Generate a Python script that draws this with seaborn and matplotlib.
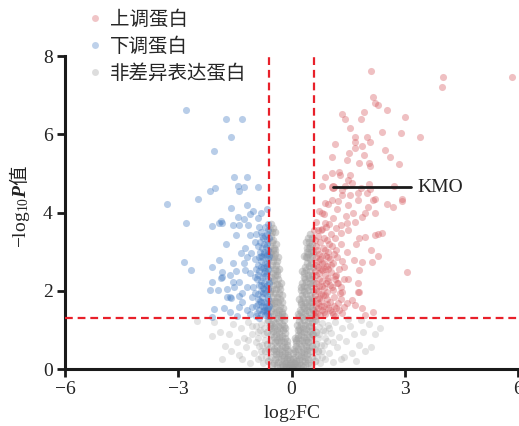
import matplotlib
matplotlib.use("Agg")
import matplotlib.pyplot as plt
from matplotlib.lines import Line2D
import seaborn as sns
import pandas as pd

# ---------------- data ----------------
groups = ["上调蛋白", "下调蛋白", "非差异表达蛋白"]
colors = ["#d65a60", "#467dc3", "#a0a0a0"]

fc_cut = 0.585   # log2(1.5)
p_cut = 1.301    # -log10(0.05)

kmo_point = (1.10, 4.65)
kmo_label = "KMO"

# non-significant proteins, dense V core (|log2FC| < 0.6)
ns_core = [
    (-0.55,3.70),(-0.50,3.60),(-0.45,3.50),(-0.54,3.40),(-0.48,3.30),(-0.40,3.20),(-0.56,3.15),(-0.50,3.05),
    (-0.43,2.95),(-0.36,2.85),(-0.55,2.85),(-0.48,2.75),(-0.41,2.65),(-0.33,2.55),(-0.56,2.55),(-0.50,2.45),
    (-0.43,2.40),(-0.36,2.30),(-0.29,2.20),(-0.55,2.25),(-0.48,2.15),(-0.41,2.05),(-0.33,1.95),(-0.26,1.88),
    (-0.56,1.95),(-0.50,1.85),(-0.44,1.75),(-0.37,1.70),(-0.30,1.60),(-0.22,1.55),(-0.55,1.65),(-0.48,1.55),
    (-0.42,1.45),(-0.35,1.40),(-0.28,1.32),(-0.20,1.25),(-0.56,1.35),(-0.50,1.25),(-0.44,1.18),(-0.37,1.10),
    (-0.30,1.05),(-0.23,1.00),(-0.16,0.92),(-0.55,1.05),(-0.48,0.98),(-0.41,0.90),(-0.34,0.82),(-0.27,0.75),
    (-0.20,0.70),(-0.13,0.62),(-0.52,0.75),(-0.45,0.68),(-0.38,0.60),(-0.31,0.52),(-0.24,0.45),(-0.17,0.40),
    (-0.10,0.35),(-0.50,0.45),(-0.42,0.38),(-0.35,0.30),(-0.28,0.25),(-0.21,0.20),(-0.14,0.15),(-0.07,0.10),
    (-0.46,0.15),(-0.38,0.10),(-0.30,0.05),(-0.22,0.08),(-0.15,0.05),(-0.08,0.30),(-0.05,0.15),(-0.03,0.05),
    (-0.12,0.50),(-0.19,1.10),(-0.26,1.45),(-0.31,2.05),(-0.39,2.50),(-0.46,3.10),(-0.52,3.50),(-0.58,3.00),
    (-0.58,2.00),(-0.58,1.10),
    (-0.57,3.55),(-0.52,3.25),(-0.44,3.05),(-0.53,2.95),(-0.46,2.85),(-0.39,2.75),(-0.52,2.65),(-0.45,2.55),
    (-0.38,2.40),(-0.53,2.35),(-0.46,2.28),(-0.39,2.18),(-0.32,2.12),(-0.52,2.05),(-0.45,1.95),(-0.38,1.85),
    (-0.31,1.78),(-0.24,1.70),(-0.53,1.75),(-0.46,1.68),(-0.40,1.58),(-0.33,1.50),(-0.26,1.40),(-0.19,1.35),
    (-0.53,1.48),(-0.46,1.40),(-0.39,1.30),(-0.32,1.22),(-0.25,1.15),(-0.18,1.05),(-0.53,1.15),(-0.46,1.08),
    (-0.39,1.00),(-0.32,0.92),(-0.25,0.85),(-0.18,0.80),(-0.11,0.72),(-0.53,0.90),(-0.46,0.82),(-0.39,0.75),
    (-0.32,0.68),(-0.25,0.60),(-0.18,0.55),(-0.10,0.45),(-0.53,0.60),(-0.46,0.52),(-0.40,0.45),(-0.33,0.40),
    (-0.26,0.35),(-0.19,0.30),(-0.12,0.25),(-0.05,0.25),(-0.53,0.30),(-0.44,0.25),(-0.36,0.18),(-0.26,0.12),
    (-0.18,0.12),(-0.10,0.05),(-0.52,0.10),
    (0.50,3.45),(0.45,3.35),(0.38,3.25),(0.54,3.20),(0.47,3.10),(0.40,3.00),(0.32,2.90),(0.55,2.90),
    (0.49,2.80),(0.42,2.70),(0.35,2.60),(0.28,2.50),(0.56,2.60),(0.50,2.50),(0.43,2.40),(0.36,2.30),
    (0.29,2.20),(0.24,2.10),(0.55,2.30),(0.48,2.20),(0.41,2.10),(0.34,2.00),(0.27,1.90),(0.21,1.80),
    (0.56,2.00),(0.50,1.90),(0.44,1.80),(0.37,1.70),(0.30,1.60),(0.23,1.50),(0.17,1.40),(0.55,1.70),
    (0.48,1.60),(0.42,1.50),(0.35,1.42),(0.28,1.32),(0.21,1.22),(0.15,1.12),(0.56,1.40),(0.50,1.30),
    (0.44,1.20),(0.37,1.12),(0.30,1.04),(0.23,0.96),(0.16,0.88),(0.10,0.80),(0.55,1.05),(0.48,0.98),
    (0.41,0.90),(0.34,0.82),(0.27,0.74),(0.20,0.66),(0.13,0.58),(0.07,0.50),(0.52,0.75),(0.45,0.68),
    (0.38,0.60),(0.31,0.52),(0.24,0.44),(0.17,0.36),(0.10,0.30),(0.04,0.25),(0.50,0.45),(0.42,0.38),
    (0.35,0.30),(0.28,0.22),(0.21,0.16),(0.14,0.10),(0.07,0.06),(0.00,0.03),(0.45,0.15),(0.37,0.10),
    (0.30,0.06),(0.02,0.18),(0.05,0.40),(0.12,0.75),(0.19,1.05),(0.26,1.65),(0.33,2.35),(0.40,2.85),
    (0.46,3.25),(0.58,3.00),(0.58,2.20),(0.58,1.50),(0.58,0.90),
    (0.53,3.35),(0.49,3.15),(0.42,3.10),(0.52,3.00),(0.45,2.95),(0.38,2.85),(0.52,2.70),(0.46,2.62),
    (0.39,2.52),(0.32,2.45),(0.53,2.40),(0.46,2.32),(0.39,2.22),(0.32,2.12),(0.26,2.02),(0.52,2.12),
    (0.45,2.02),(0.38,1.92),(0.31,1.82),(0.24,1.72),(0.53,1.82),(0.46,1.72),(0.40,1.62),(0.33,1.55),
    (0.26,1.45),(0.19,1.35),(0.53,1.55),(0.46,1.45),(0.39,1.35),(0.32,1.25),(0.25,1.15),(0.18,1.00),
    (0.53,1.20),(0.46,1.10),(0.39,1.02),(0.32,0.95),(0.25,0.88),(0.18,0.78),(0.12,0.68),(0.53,0.90),
    (0.46,0.82),(0.39,0.75),(0.32,0.68),(0.25,0.60),(0.18,0.52),(0.10,0.45),(0.53,0.60),(0.46,0.55),
    (0.40,0.48),(0.33,0.40),(0.26,0.32),(0.19,0.25),(0.12,0.20),(0.06,0.15),(0.53,0.30),(0.44,0.25),
    (0.36,0.20),(0.26,0.10),(0.18,0.05),(0.10,0.12),(0.52,0.10),(-0.02,0.10),(0.03,0.02),
    (-0.62,1.25),(-0.66,0.95),(-0.64,0.65),(-0.70,0.45),(-0.63,0.20),(0.62,1.25),(0.66,0.95),(0.64,0.65),
    (0.70,0.45),(0.63,0.20),
]

# non-significant proteins, sparse outer cloud
ns_outer = [
    (-0.65,1.20),(-0.72,1.05),(-0.80,1.15),(-0.88,0.95),(-0.95,1.10),(-1.05,0.90),(-1.15,1.20),(-1.25,0.80),
    (-1.35,1.05),(-1.45,0.70),(-1.55,1.15),(-1.65,0.90),(-1.75,0.60),(-1.90,0.95),(-2.05,1.20),(-2.10,0.85),
    (-1.60,0.45),(-1.40,0.35),(-1.20,0.55),(-1.00,0.40),(-0.85,0.60),(-0.70,0.75),(-0.62,0.50),(-0.68,0.30),
    (-0.75,0.15),(-0.90,0.25),(-1.10,0.15),(-0.80,0.45),(-0.95,0.70),(-1.30,0.25),(-2.50,1.22),(-1.85,0.25),
    (0.65,1.22),(0.72,1.08),(0.80,1.18),(0.88,0.98),(0.96,1.12),(1.05,0.92),(1.15,1.20),(1.25,0.82),
    (1.35,1.05),(1.45,0.72),(1.55,1.10),(1.65,0.90),(1.78,0.62),(1.90,0.95),(2.05,1.15),(2.20,0.90),
    (2.35,1.05),(1.95,0.45),(1.60,0.40),(1.40,0.30),(1.20,0.55),(1.00,0.40),(0.85,0.62),(0.70,0.78),
    (0.62,0.52),(0.68,0.30),(0.75,0.15),(0.90,0.25),(1.10,0.18),(0.80,0.45),(0.95,0.72),(1.30,0.25),
    (1.70,0.20),(2.10,0.55),(1.85,1.25),(1.50,1.28),
    (-0.74,0.90),(-0.78,0.62),(-0.82,0.30),(-0.84,1.00),(-0.90,0.80),(0.74,0.90),(0.78,0.62),(0.82,0.30),
    (0.84,1.00),(0.90,0.80),(1.00,1.05),(1.10,0.70),(-1.05,1.10),(-1.15,0.75),
]

down_pts = [
    (-2.79,6.63),(-1.73,6.40),(-1.30,6.40),(-1.59,5.92),(-2.04,5.56),(-1.51,4.90),(-1.19,4.90),(-1.41,4.69),
    (-1.25,4.64),(-1.38,4.54),(-0.90,4.64),(-2.02,4.62),(-2.17,4.54),(-2.47,4.34),(-3.29,4.21),(-1.59,4.11),
    (-1.19,4.18),(-1.01,4.03),(-1.09,3.96),(-0.66,4.08),(-1.43,3.88),(-1.25,3.83),(-1.86,3.78),(-2.79,3.72),
    (-2.10,3.65),(-1.91,3.72),(-1.83,3.72),(-1.73,3.19),(-1.56,3.67),(-1.38,3.67),(-1.14,3.67),(-0.85,3.62),
    (-1.11,3.42),(-1.46,3.42),(-1.33,2.96),(-1.54,2.70),(-1.83,2.47),(-1.64,2.40),(-1.83,2.35),(-1.56,2.22),
    (-1.38,2.22),(-1.72,2.04),(-1.64,1.84),(-1.61,1.81),(-1.38,1.86),(-1.17,2.09),(-1.30,1.94),(-1.38,1.58),
    (-1.62,1.45),(-1.19,1.50),(-2.86,2.73),(-2.65,2.53),(-2.15,2.02),(-1.94,2.02),(-2.04,1.53),(-2.10,1.32),
    (-1.91,2.78),(-2.10,2.60),(-2.10,2.22),(-1.86,2.32),(-1.72,1.83),(-1.27,2.70),(-1.19,2.86),(-1.06,2.96),
    (-1.22,2.53),(-1.09,2.45),(-0.98,2.35),(-1.01,2.09),(-1.04,1.83),(-1.04,1.58),(-1.11,1.40),(-0.93,1.35),
    (-1.22,3.10),(-0.98,3.25),(-1.46,2.50),(-1.51,2.10),(-1.30,1.70),(-1.80,1.55),(-1.45,1.35),(-0.88,3.85),
    (-0.80,4.00),(-0.95,3.45),
    (-0.62,1.35),(-0.66,1.42),(-0.70,1.38),(-0.75,1.48),(-0.80,1.40),(-0.86,1.52),(-0.63,1.55),(-0.68,1.62),
    (-0.73,1.70),(-0.78,1.60),(-0.84,1.75),(-0.90,1.66),(-0.61,1.80),(-0.65,1.88),(-0.71,1.95),(-0.77,1.85),
    (-0.82,2.00),(-0.88,1.92),(-0.62,2.05),(-0.67,2.12),(-0.72,2.20),(-0.76,2.08),(-0.81,2.25),(-0.87,2.15),
    (-0.92,2.30),(-0.63,2.30),(-0.69,2.38),(-0.74,2.45),(-0.79,2.35),(-0.85,2.50),(-0.61,2.55),(-0.66,2.62),
    (-0.71,2.70),(-0.76,2.58),(-0.82,2.75),(-0.89,2.65),(-0.63,2.80),(-0.68,2.88),(-0.73,2.95),(-0.78,2.85),
    (-0.84,3.00),(-0.62,3.05),(-0.67,3.12),(-0.72,3.20),(-0.77,3.08),(-0.83,3.25),(-0.90,3.15),(-0.64,3.30),
    (-0.69,3.40),(-0.75,3.35),(-0.81,3.50),(-0.63,3.55),(-0.70,3.62),(-0.66,1.70),(-0.74,1.52),(-0.70,2.50),
    (-0.65,2.95),(-0.80,2.60),(-0.75,1.95),(-0.92,1.42),(-0.95,1.62),(-0.96,1.95),(-0.94,2.55),(-0.97,2.80),
    (-0.61,3.70),(-0.68,1.48),(-0.88,2.40),(-0.86,1.30),
    (-0.64,1.50),(-0.72,1.58),(-0.80,1.70),(-0.88,1.80),(-0.64,2.15),(-0.72,2.05),(-0.80,2.15),(-0.64,2.45),
    (-0.72,2.60),(-0.80,2.90),(-0.64,2.70),(-0.72,3.00),(-0.86,2.85),(-0.65,3.20),(-0.78,3.40),(-0.66,3.45),
    (-0.60,2.20),(-0.60,1.60),(-0.60,2.90),(-0.60,3.35),
]

up_pts = [
    (2.10,7.61),(4.01,7.47),(3.98,7.22),(5.84,7.47),(2.15,6.96),(2.20,6.81),(2.28,6.76),(2.52,6.61),
    (1.91,6.56),(1.33,6.51),(1.43,6.40),(1.83,6.38),(3.00,6.45),(1.54,6.15),(2.41,6.07),(2.89,6.02),
    (3.40,5.94),(1.67,5.94),(1.99,5.92),(1.67,5.79),(2.07,5.79),(1.88,5.71),(1.14,5.74),(1.67,5.64),
    (2.49,5.61),(1.51,5.51),(1.91,5.46),(2.60,5.43),(1.06,5.41),(1.46,5.33),(1.80,5.26),(2.04,5.26),
    (2.07,5.20),(2.86,5.23),(1.25,5.03),(1.06,5.00),(1.56,4.95),(0.90,4.90),(1.28,4.95),(1.49,4.82),
    (0.82,4.69),(2.04,4.74),(2.71,4.67),(1.83,4.62),(2.07,4.60),(1.59,4.75),(1.43,4.69),(1.33,4.57),
    (1.99,4.51),(1.75,4.51),(1.33,4.44),(1.54,4.44),(2.94,4.34),(2.20,4.34),(2.94,4.29),(2.52,4.21),
    (2.68,4.13),(2.17,4.31),(1.75,4.31),(1.49,4.18),(1.06,4.31),(0.88,4.24),(0.80,3.98),(0.88,3.72),
    (0.80,3.57),(0.70,3.40),
    (3.05,2.47),(2.41,3.47),(2.28,3.44),(2.20,3.42),(1.96,3.37),(1.80,3.34),(1.72,3.19),(2.10,3.04),
    (2.28,2.88),(2.12,2.73),(1.88,2.73),(1.65,2.78),(1.46,2.99),(1.80,2.53),(1.49,2.30),(1.75,2.19),
    (1.75,1.96),(1.80,1.96),(1.59,1.76),(1.67,1.63),(1.88,1.56),(2.15,1.45),(1.94,1.38),(1.46,1.68),
    (1.33,1.96),(1.22,2.19),(1.19,2.40),(1.40,2.60),(1.46,3.72),(1.30,3.67),(1.19,3.60),(1.49,3.54),
    (1.30,3.47),(1.62,3.98),(1.67,3.75),(1.86,3.88),(1.96,3.98),(2.20,3.98),(2.02,4.13),(1.22,4.29),
    (0.98,4.21),(0.86,3.95),
    (0.62,1.35),(0.68,1.42),(0.75,1.38),(0.82,1.50),(0.90,1.40),(0.98,1.55),(1.06,1.45),(1.15,1.35),
    (1.25,1.50),(1.35,1.42),(0.64,1.60),(0.71,1.68),(0.79,1.75),(0.87,1.62),(0.95,1.80),(1.03,1.70),
    (1.12,1.85),(1.22,1.68),(1.32,1.78),(0.63,1.90),(0.70,2.00),(0.78,1.92),(0.86,2.08),(0.94,1.98),
    (1.02,2.15),(1.10,2.02),(1.20,2.20),(1.30,2.10),(0.65,2.20),(0.72,2.30),(0.80,2.25),(0.88,2.40),
    (0.96,2.32),(1.04,2.48),(1.14,2.38),(1.25,2.55),(0.62,2.50),(0.69,2.60),(0.77,2.55),(0.85,2.70),
    (0.93,2.62),(1.01,2.80),(1.10,2.70),(1.20,2.85),(0.64,2.85),(0.72,2.95),(0.80,2.88),(0.90,3.05),
    (0.98,2.98),(1.08,3.15),(1.18,3.05),(0.66,3.15),(0.75,3.25),(0.85,3.35),(0.95,3.30),(1.05,3.45),
    (0.68,1.78),(0.84,1.88),(0.74,2.12),(0.92,2.20),(0.66,2.40),(0.82,2.52),(0.70,2.75),(0.96,2.55),
    (1.12,1.60),(1.40,1.58),(1.38,2.30),(1.35,2.75),(1.30,3.20),(1.28,1.95),(0.60,3.55),(0.65,3.75),
    (0.78,3.55),(0.92,3.62),(1.10,3.85),(1.45,3.90),(1.20,4.10),(0.72,4.05),(1.00,3.70),
    (0.63,1.45),(0.70,1.55),(0.78,1.62),(0.86,1.45),(0.94,1.65),(1.02,1.52),(1.10,1.40),(1.18,1.55),
    (0.66,2.05),(0.74,1.82),(0.82,2.12),(0.90,1.90),(0.98,2.25),(1.06,2.10),(1.14,2.30),(0.64,2.65),
    (0.72,2.45),(0.80,2.70),(0.88,2.55),(0.96,2.85),(1.04,2.65),(1.12,2.95),(0.68,3.05),(0.76,2.80),
    (0.84,3.10),(0.92,2.90),(1.00,3.20),(1.15,3.35),(0.62,3.30),(0.70,3.55),
]

x_ticks = [-6, -3, 0, 3, 6]
y_ticks = [0, 2, 4, 6, 8]

# ---------------- build table ----------------
rows = []
for g, part, pts in [(groups[2], "outer", ns_outer), (groups[2], "core", ns_core),
                     (groups[1], "sig", down_pts), (groups[0], "sig", up_pts)]:
    for x, y in pts:
        rows.append({"log2FC": x, "logP": y, "group": g, "part": part})
df = pd.DataFrame(rows)

# ---------------- style ----------------
sns.set_style("ticks")
plt.rcParams["font.family"] = ["Liberation Serif", "Noto Sans CJK SC", "DejaVu Sans"]
plt.rcParams["mathtext.fontset"] = "custom"
plt.rcParams["mathtext.rm"] = "Liberation Serif"
plt.rcParams["mathtext.it"] = "Liberation Serif:italic"
plt.rcParams["mathtext.bf"] = "Liberation Serif:italic:bold"
plt.rcParams["mathtext.sf"] = "Noto Sans CJK SC"

fig = plt.figure(figsize=(5.19, 4.26), dpi=100)
ax = fig.add_axes([65 / 519, 57 / 426, 453 / 519, 313 / 426])

palette = dict(zip(groups, colors))
layers = [(groups[2], "outer", 0.28, 26), (groups[2], "core", 0.45, 30),
          (groups[1], "sig", 0.38, 26), (groups[0], "sig", 0.38, 26)]
for g, part, a, s in layers:
    sub = df[(df["group"] == g) & (df["part"] == part)]
    sns.scatterplot(data=sub, x="log2FC", y="logP", color=palette[g],
                    s=s, alpha=a, linewidth=0, legend=False, ax=ax, zorder=2)

# threshold lines
red = "#e8202a"
ax.axvline(-fc_cut, color=red, lw=1.6, ls=(0, (3.5, 2.2)), zorder=3)
ax.axvline(fc_cut, color=red, lw=1.6, ls=(0, (3.5, 2.2)), zorder=3)
ax.axhline(p_cut, color=red, lw=1.6, ls=(0, (3.5, 2.2)), zorder=3)

# KMO annotation
ax.scatter([kmo_point[0]], [kmo_point[1]], s=40, color="#d65a60", alpha=0.6, linewidth=0, zorder=4)
ax.plot([kmo_point[0], 3.17], [kmo_point[1], kmo_point[1]], color="#1a1a1a", lw=2, zorder=5)
ax.text(3.33, kmo_point[1], kmo_label, fontsize=14, va="center", ha="left", color="#222222")

ax.set_xlim(-6, 6)
ax.set_ylim(0, 8)
ax.set_xticks(x_ticks)
ax.set_yticks(y_ticks)
ax.tick_params(axis="both", labelsize=14, length=6, width=2, color="#1a1a1a",
               labelcolor="#222222", direction="out", pad=3)
for side in ["left", "bottom"]:
    ax.spines[side].set_linewidth(2.2)
    ax.spines[side].set_color("#1a1a1a")
sns.despine(ax=ax)

ax.set_xlabel(r"$\mathrm{log}_{2}\mathrm{FC}$", fontsize=14, color="#222222", labelpad=3)
ax.set_ylabel(r"$-\mathrm{log}_{10}\mathbf{P}\mathsf{值}$", fontsize=14, color="#222222", labelpad=4)
ax.yaxis.set_label_coords(-0.072, 0.52)

handles = [Line2D([0], [0], marker="o", ls="", markersize=5, markerfacecolor=c,
                  markeredgewidth=0, alpha=0.35) for c in colors]
fig.legend(handles, groups, loc="upper left", bbox_to_anchor=(85 / 519, 1 - 10 / 426),
           frameon=False, handlelength=1.0, handletextpad=0.3,
           borderpad=0, borderaxespad=0, labelspacing=0.45,
           prop={"family": ["Liberation Serif", "Noto Sans CJK SC"], "size": 14})

fig.savefig("out.png", dpi=100)
